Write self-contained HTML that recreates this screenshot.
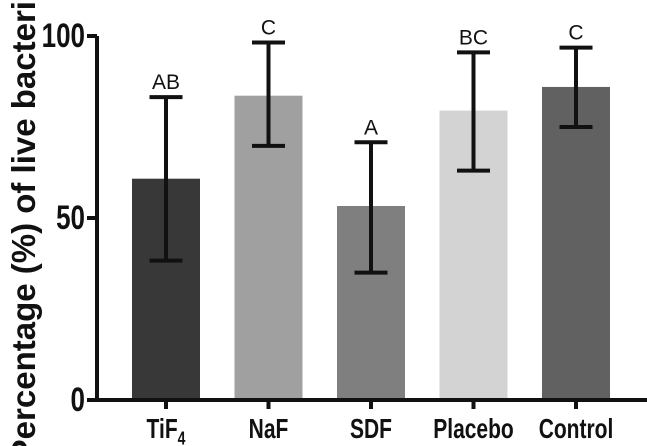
<!DOCTYPE html>
<html><head><meta charset="utf-8"><style>
html,body{margin:0;padding:0;background:#fff;overflow:hidden}
svg{display:block;font-family:"Liberation Sans",Arial,sans-serif}
</style></head><body>
<svg id="chart" width="647" height="446"></svg>
<script>
const categories=["TiF4","NaF","SDF","Placebo","Control"];
const values=[60.8,83.6,53.3,79.5,86];
const errUpper=[83.2,98.2,70.8,95.5,96.8];
const errLower=[38.3,69.8,35,63,75];
const sigLetters=["AB","C","A","BC","C"];
const colors=["#383838","#a0a0a0","#7f7f7f","#d3d3d3","#616161"];
const yTicks=[0,50,100];
const NS="http://www.w3.org/2000/svg";
const svg=document.getElementById('chart');
const y0=400,y100=36,xAxis=97,first=166,step=102.5,bw=68,cap=33;
const y=v=>y0-(y0-y100)*v/100;
const x=i=>first+i*step;
function mk(t,a,p){const e=document.createElementNS(NS,t);for(const k in a)e.setAttribute(k,a[k]);(p||svg).appendChild(e);return e;}
categories.forEach((c,i)=>{
 const r=mk('rect',{x:x(i)-bw/2,y:y(values[i]),width:bw,height:y0-y(values[i]),fill:colors[i]});
 
 
 const g=mk('g',{stroke:'#111','stroke-width':4});
 
 
 mk('line',{x1:x(i),x2:x(i),y1:y(errUpper[i]),y2:y(errLower[i])},g);
 mk('line',{x1:x(i)-cap/2,x2:x(i)+cap/2,y1:y(errUpper[i]),y2:y(errUpper[i])},g);
 mk('line',{x1:x(i)-cap/2,x2:x(i)+cap/2,y1:y(errLower[i]),y2:y(errLower[i])},g);
 const s=mk('text',{x:x(i),y:y(errUpper[i])-8,'text-anchor':'middle','font-size':21,fill:'#111'});
 s.textContent=sigLetters[i];
 
 
 mk('line',{x1:x(i),x2:x(i),y1:y0,y2:y0+9,stroke:'#111','stroke-width':4});
 const t=mk('text',{x:0,y:0,transform:`translate(${x(i)},438) scale(1,1.3)`,'text-anchor':'middle','font-size':21,'font-weight':'bold',fill:'#111'});
 if(c==="TiF4"){t.textContent="TiF";const sub=mk('tspan',{'font-size':14,dy:5},t);sub.textContent="4";}
 else t.textContent=c;
 
 
});
const ax=mk('path',{d:`M${xAxis} ${y100} V${y0} H647`,fill:'none',stroke:'#111','stroke-width':4});


yTicks.forEach(v=>{
 mk('line',{x1:xAxis-10,x2:xAxis,y1:y(v),y2:y(v),stroke:'#111','stroke-width':4});
 const t=mk('text',{x:0,y:0,transform:`translate(85,${y(v)+11}) scale(1,1.3)`,'text-anchor':'end','font-size':26,'font-weight':'bold',fill:'#111'});
 t.textContent=v;
 
 
});
const yt=mk('text',{x:0,y:0,transform:'translate(35,222) rotate(-90)','text-anchor':'middle','font-size':33,'font-weight':'bold',fill:'#111'});
yt.textContent="Percentage (%) of live bacteria";


</script>
</body></html>
